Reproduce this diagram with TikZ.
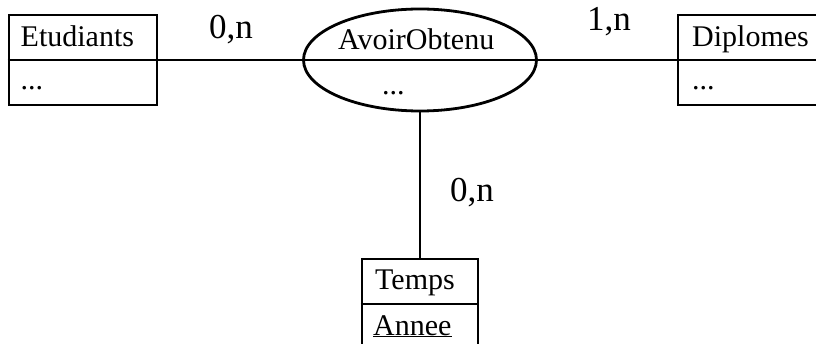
\documentclass[tikz,border=0pt]{standalone}
\usepackage{fontspec}
\setmainfont{Liberation Serif}
\usetikzlibrary{shapes.geometric}

\begin{document}
\begin{tikzpicture}[
  x=1pt, y=-1pt,
  entity/.style={rectangle, draw=black, line width=2.8pt,
                 minimum width=148pt, minimum height=90pt, inner sep=0pt},
  assoc/.style={ellipse, draw=black, line width=2.8pt,
                minimum width=233pt, minimum height=102pt, inner sep=0pt},
  txt/.style={anchor=base west, inner sep=0pt, font=\fontsize{30}{36}\selectfont},
  card/.style={anchor=base west, inner sep=0pt, font=\fontsize{35}{42}\selectfont},
  link/.style={line width=2.8pt},
]
\useasboundingbox (0,0) rectangle (816,344);
\clip (0,0) rectangle (816,344);
% entities and association
\node[entity] (etudiants) at (83,60) {};
\node[entity] (diplomes) at (752,60) {};
\node[entity, minimum width=116pt] (temps) at (420,304) {};
\node[assoc] (avoir) at (420,60) {};
% dividers
\draw[link] (etudiants.west) -- (etudiants.east);
\draw[link] (diplomes.west) -- (diplomes.east);
\draw[link] (temps.west) -- (temps.east);
% texts
\node[txt] (etuName) at (20.5,47) {Etudiants};
\node[txt] (etuAttr) at (20.5,90) {...};
\node[txt] (dipName) at (692,47) {Diplomes};
\node[txt] (dipAttr) at (692,90) {...};
\node[txt] (tpsName) at (375,290) {Temps};
\node[txt] (tpsAttr) at (373,335) {\underline{Annee}};
\node[txt] (avoirName) at (338,50) {AvoirObtenu};
\node[txt] (avoirAttr) at (382,95) {...};
% links
\draw[link] (etudiants.east) -- (avoir.west) -- (avoir.east) -- (diplomes.west);
\draw[link] (avoir.south) -- (temps.north);
% cardinalities
\node[card] (cardEtu) at (209,39) {0,n};
\node[card] (cardDip) at (587,31) {1,n};
\node[card] (cardTps) at (450,202) {0,n};
\end{tikzpicture}
\end{document}
